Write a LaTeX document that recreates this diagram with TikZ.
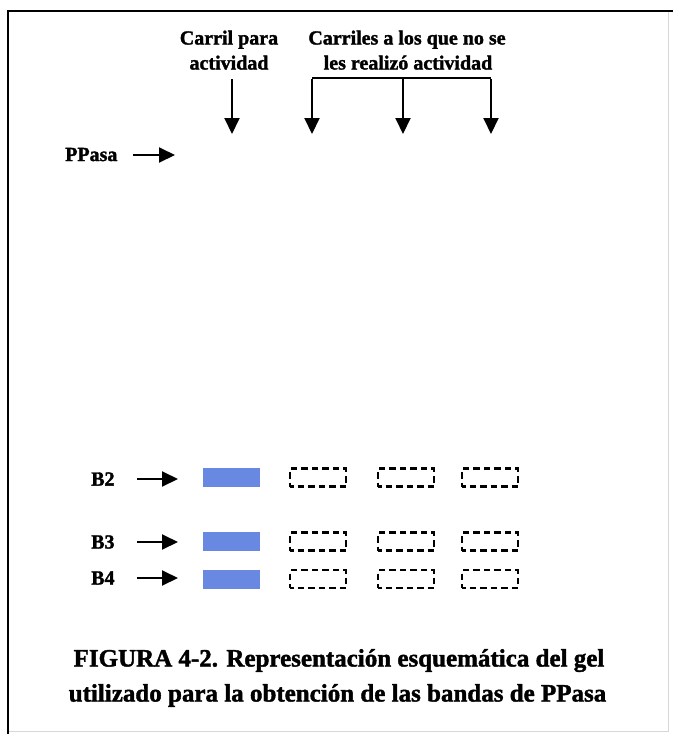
\documentclass[tikz,border=0pt]{standalone}
\usepackage{fontspec}
\setmainfont{Liberation Serif}[BoldFeatures={FakeBold=1.6}]
\usetikzlibrary{arrows.meta}
\definecolor{bandblue}{RGB}{104,136,226}
\definecolor{edgegray}{RGB}{215,215,215}
\begin{document}
\begin{tikzpicture}[x=1pt,y=-1pt,
  lbl/.style={inner sep=0pt,anchor=base,font=\bfseries\fontsize{20}{25}\selectfont},
  caption/.style={inner sep=0pt,anchor=base,font=\bfseries\fontsize{25}{35}\selectfont},
  arr/.style={line width=2pt,-{Triangle[length=16pt,width=15pt]}},
  band/.style={fill=bandblue,draw=none,minimum width=57pt,minimum height=19pt,inner sep=0pt},
  emptyband/.style={draw=black,line width=2.2pt,dash pattern=on 6.5pt off 4pt,dash phase=3pt,
    minimum width=56pt,minimum height=18pt,inner sep=0pt}]
\useasboundingbox (0,0) rectangle (673,734);

% frame
\draw[edgegray,line width=1pt] (668,11) -- (668,731) -- (8,731);
\draw[line width=2.2pt] (8,734) -- (8,11) -- (673,11);

% lane headings
\node[lbl] (h1a) at (229,44.5) {Carril para};
\node[lbl] (h1b) at (229,69.5) {actividad};
\node[lbl] (h2a) at (407,44.5) {Carriles a los que no se};
\node[lbl] (h2b) at (408,69.5) {les realizó actividad};

% lane arrows
\coordinate (s1) at (232,79);
\coordinate (t1) at (232,134);
\draw[arr] (s1) -- (t1);
\coordinate (k2) at (312,78);
\coordinate (k3) at (403,78);
\coordinate (k4) at (491,78);
\coordinate (t2) at (312,134);
\coordinate (t3) at (403,134);
\coordinate (t4) at (491,134);
\draw[line width=2pt] (k2) -- (k4);
\draw[arr] ([yshift=-1pt]k2) -- (t2);
\draw[arr] (k3) -- (t3);
\draw[arr] ([yshift=-1pt]k4) -- (t4);

% PPasa marker
\node[lbl,anchor=base west] (pp) at (65,161) {PPasa};
\coordinate (pa) at (133,155);
\coordinate (pb) at (175,155);
\draw[arr] (pa) -- (pb);

% band rows
\foreach \name/\ly/\by in {B2/479/477.5, B3/542/541.5, B4/578/579}{
  \node[lbl,anchor=west] (l\name) at (91,\ly) {\name};
  \coordinate (a\name) at (137,\ly);
  \coordinate (b\name) at (178,\ly);
  \draw[arr] (a\name) -- (b\name);
  \node[band] (c\name) at (231.5,\by) {};
  \node[emptyband] (d\name) at (318,\by) {};
  \node[emptyband] (e\name) at (406,\by) {};
  \node[emptyband] (f\name) at (490,\by) {};
}

% caption
\node[caption] (cap1) at (339,666.5) {FIGURA 4-2. Representación esquemática del gel};
\node[caption] (cap2) at (337.5,701.5) {utilizado para la obtención de las bandas de PPasa};
\end{tikzpicture}
\end{document}
